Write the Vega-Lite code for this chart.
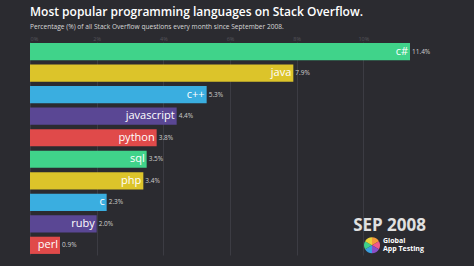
{
  "$schema": "https://vega.github.io/schema/vega-lite/v6.json",
  "autosize": "none",
  "width": 400,
  "height": 213,
  "padding": {"left": 30, "top": 42, "right": 44, "bottom": 11},
  "background": "#2b2b30",
  "config": {
    "view": {"stroke": null},
    "font": "Open Sans"
  },
  "title": {
    "text": "Most popular programming languages on Stack Overflow.",
    "subtitle": "Percentage (%) of all Stack Overflow questions every month since September 2008.",
    "anchor": "start",
    "frame": "group",
    "fontSize": 12,
    "fontWeight": 600,
    "color": "#ffffff",
    "subtitleFontSize": 6.6,
    "subtitleColor": "#d8d8d8",
    "subtitlePadding": 5,
    "offset": 4
  },
  "datasets": {
    "langs": [
      {"lang": "c#", "pct": 11.4, "label": "11.4%"},
      {"lang": "java", "pct": 7.9, "label": "7.9%"},
      {"lang": "c++", "pct": 5.3, "label": "5.3%"},
      {"lang": "javascript", "pct": 4.4, "label": "4.4%"},
      {"lang": "python", "pct": 3.8, "label": "3.8%"},
      {"lang": "sql", "pct": 3.5, "label": "3.5%"},
      {"lang": "php", "pct": 3.4, "label": "3.4%"},
      {"lang": "c", "pct": 2.3, "label": "2.3%"},
      {"lang": "ruby", "pct": 2.0, "label": "2.0%"},
      {"lang": "perl", "pct": 0.9, "label": "0.9%"}
    ],
    "logo": [
      {"part": "a", "share": 1},
      {"part": "b", "share": 1},
      {"part": "c", "share": 1},
      {"part": "d", "share": 1},
      {"part": "e", "share": 1},
      {"part": "f", "share": 1}
    ]
  },
  "layer": [
    {
      "data": {"name": "langs"},
      "mark": {"type": "bar", "cornerRadius": 0},
      "encoding": {
        "y": {
          "field": "lang",
          "type": "nominal",
          "sort": null,
          "scale": {"paddingInner": 0.2, "paddingOuter": 0.05},
          "axis": null
        },
        "x": {
          "field": "pct",
          "type": "quantitative",
          "scale": {"domain": [0, 12], "nice": false},
          "axis": {
            "orient": "top",
            "values": [0, 2, 4, 6, 8, 10],
            "labelExpr": "datum.value + '%'",
            "domain": false,
            "ticks": false,
            "labelFontSize": 5.5,
            "labelColor": "#55555c",
            "labelPadding": 1,
            "gridColor": "#3c3c43",
            "gridWidth": 1,
            "title": null
          }
        },
        "color": {
          "field": "lang",
          "type": "nominal",
          "legend": null,
          "scale": {
            "domain": ["c#", "java", "c++", "javascript", "python", "sql", "php", "c", "ruby", "perl"],
            "range": ["#40d38a", "#dcc42a", "#3aaee0", "#5a4794", "#e04a4a", "#40d38a", "#dcc42a", "#3aaee0", "#5a4794", "#e04a4a"]
          }
        }
      }
    },
    {
      "data": {"name": "langs"},
      "mark": {"type": "text", "align": "right", "baseline": "middle", "dx": -2, "dy": 0, "fontSize": 11, "color": "#ffffff"},
      "encoding": {
        "y": {"field": "lang", "type": "nominal", "sort": null},
        "x": {"field": "pct", "type": "quantitative"},
        "text": {"field": "lang"}
      }
    },
    {
      "data": {"name": "langs"},
      "mark": {"type": "text", "align": "left", "baseline": "middle", "dx": 2, "fontSize": 6.5, "color": "#cfcfcf"},
      "encoding": {
        "y": {"field": "lang", "type": "nominal", "sort": null},
        "x": {"field": "pct", "type": "quantitative"},
        "text": {"field": "label"}
      }
    },
    {
      "data": {"values": [{"date": "SEP 2008"}]},
      "mark": {"type": "text", "align": "right", "baseline": "middle", "dy": 2.5, "fontSize": 17, "fontWeight": "bold", "color": "#e0e0e0"},
      "encoding": {
        "x": {"datum": 11.88},
        "y": {"datum": "ruby"},
        "text": {"field": "date"}
      }
    },
    {
      "data": {"values": [{"brand": "Global"}]},
      "mark": {"type": "text", "align": "left", "baseline": "middle", "dy": -4, "fontSize": 7, "fontWeight": "bold", "color": "#ffffff"},
      "encoding": {
        "x": {"datum": 10.59},
        "y": {"datum": "perl"},
        "text": {"field": "brand"}
      }
    },
    {
      "data": {"values": [{"brand": "App Testing"}]},
      "mark": {"type": "text", "align": "left", "baseline": "middle", "dy": 4, "fontSize": 7, "fontWeight": "bold", "color": "#ffffff"},
      "encoding": {
        "x": {"datum": 10.59},
        "y": {"datum": "perl"},
        "text": {"field": "brand"}
      }
    },
    {
      "data": {"name": "logo"},
      "mark": {"type": "arc", "outerRadius": 8},
      "encoding": {
        "x": {"datum": 10.26},
        "y": {"datum": "perl"},
        "theta": {"field": "share", "type": "quantitative", "stack": true},
        "color": {
          "field": "part",
          "type": "nominal",
          "legend": null,
          "scale": {"domain": ["a", "b", "c", "d", "e", "f"], "range": ["#f59a3a", "#f05a8c", "#8a4fc8", "#3a9fe0", "#3fd08a", "#e8d23a"]}
        }
      }
    }
  ],
  "resolve": {"scale": {"color": "independent", "theta": "independent"}}
}
